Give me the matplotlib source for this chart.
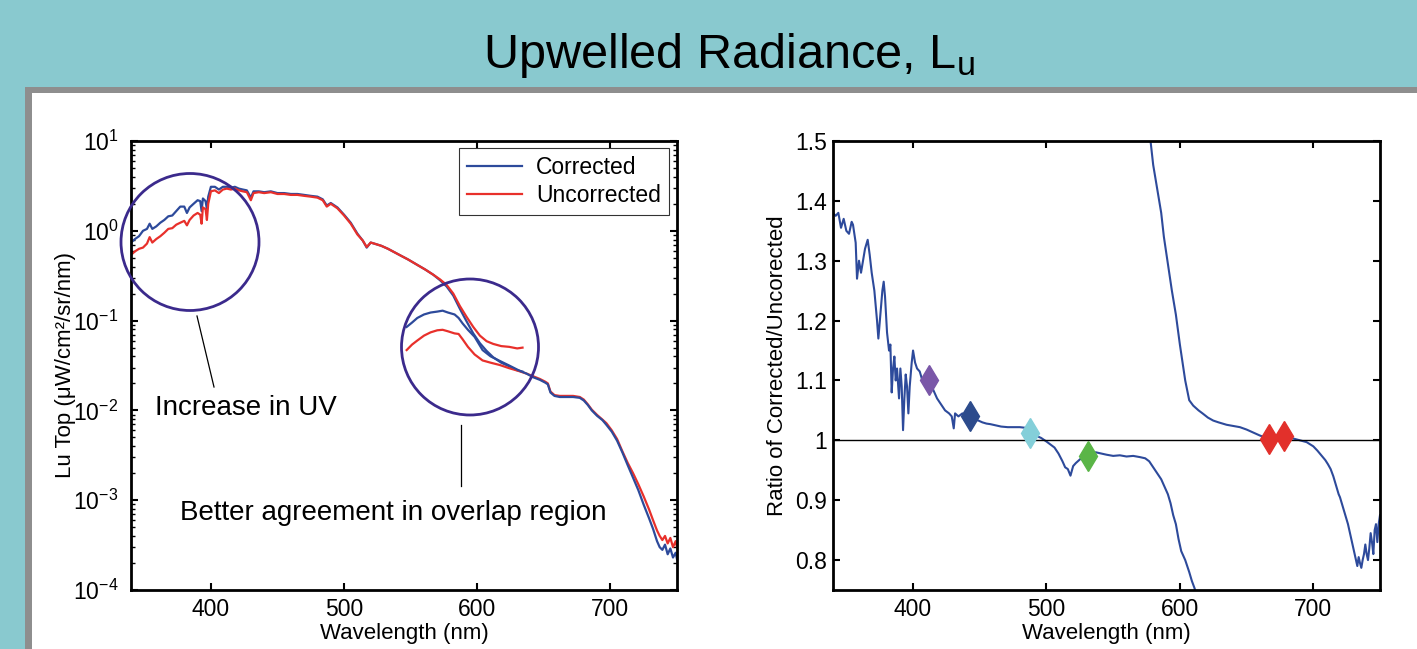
import matplotlib
matplotlib.use('Agg')
import matplotlib.pyplot as plt
from matplotlib.patches import Ellipse, Rectangle
from matplotlib.lines import Line2D
from matplotlib.ticker import LogLocator, FuncFormatter, NullFormatter

plt.rcParams['font.family'] = ['Liberation Sans', 'DejaVu Sans']
plt.rcParams['mathtext.fontset'] = 'custom'
plt.rcParams['mathtext.rm'] = 'Liberation Sans'
plt.rcParams['mathtext.it'] = 'Liberation Sans:italic'
plt.rcParams['mathtext.bf'] = 'Liberation Sans:bold'

# ---- left panel: Lu spectra, first spectrometer (UV/VIS) ----
wl_a = [340, 343, 346, 349, 352, 354, 356, 359, 362, 365, 368, 371, 374, 377, 380,
        382, 384, 387, 390, 392, 393, 394, 396, 397, 398, 400, 403, 406, 409, 412,
        415, 418, 421, 424, 427, 430, 432, 436, 440, 445, 450, 455, 460, 465, 470,
        475, 480, 484, 487, 490, 495, 500, 505, 510, 514, 517, 520, 524, 528, 533,
        538, 543, 548, 555, 561, 567, 572, 577, 582, 587, 592, 597, 602, 607, 612,
        618, 624, 630, 634]
lu_a_uncorr = [0.54, 0.59, 0.63, 0.65, 0.72, 0.85, 0.74, 0.81, 0.87, 0.95, 1.05, 1.07, 1.17, 1.23, 1.29,
               1.15, 1.32, 1.48, 1.58, 1.51, 1.20, 1.82, 1.74, 1.32, 2.0, 2.75, 2.82, 2.63, 2.88, 2.95,
               2.88, 2.95, 2.82, 2.75, 2.69, 2.19, 2.63, 2.69, 2.63, 2.69, 2.57, 2.57, 2.51, 2.51, 2.45,
               2.40, 2.34, 2.19, 1.86, 2.0, 1.78, 1.48, 1.20, 0.91, 0.78, 0.66, 0.74, 0.71, 0.68, 0.63,
               0.575, 0.525, 0.48, 0.417, 0.37, 0.324, 0.288, 0.25, 0.20, 0.145, 0.11, 0.085, 0.068, 0.059, 0.055,
               0.052, 0.051, 0.049, 0.050]
lu_a_corr = [0.74, 0.81, 0.87, 1.0, 1.05, 1.20, 1.05, 1.12, 1.23, 1.32, 1.45, 1.48, 1.66, 1.86, 1.86,
             1.58, 1.82, 2.0, 2.19, 2.14, 1.66, 2.29, 2.14, 1.74, 2.40, 3.09, 3.09, 2.88, 3.09, 3.09,
             3.02, 3.09, 2.95, 2.88, 2.82, 2.34, 2.75, 2.75, 2.69, 2.75, 2.63, 2.63, 2.57, 2.57, 2.51,
             2.45, 2.40, 2.24, 1.91, 2.04, 1.82, 1.51, 1.23, 0.93, 0.78, 0.65, 0.74, 0.71, 0.68, 0.63,
             0.575, 0.525, 0.48, 0.417, 0.37, 0.324, 0.282, 0.24, 0.19, 0.135, 0.098, 0.072, 0.056, 0.046, 0.039,
             0.034, 0.031, 0.028, 0.027]

# second spectrometer (VIS/NIR)
wl_b = [547, 551, 555, 560, 565, 570, 574, 578, 583, 586, 589, 593, 598, 604, 610,
        617, 624, 631, 637, 642, 647, 651, 653, 655, 658, 662, 667, 672, 677, 680,
        683, 686, 690, 694, 697, 701, 705, 709, 713, 717, 721, 725, 729, 732, 735,
        737, 739, 741, 743, 745, 747, 749, 750]
lu_b_uncorr = [0.047, 0.054, 0.060, 0.068, 0.074, 0.078, 0.079, 0.076, 0.072, 0.071, 0.062, 0.051, 0.042, 0.036, 0.034,
               0.032, 0.0295, 0.0275, 0.0257, 0.024, 0.0224, 0.0209, 0.020, 0.0162, 0.0148, 0.0145, 0.0145, 0.0145, 0.0141, 0.0132,
               0.0117, 0.0102, 0.0089, 0.0079, 0.0072, 0.0060, 0.0048, 0.0035, 0.0026, 0.0020, 0.0015, 0.0011, 0.00079, 0.0006, 0.00046,
               0.0004, 0.00036, 0.0004, 0.00033, 0.00038, 0.0003, 0.00035, 0.0003]
lu_b_corr = [0.085, 0.095, 0.107, 0.117, 0.123, 0.126, 0.129, 0.123, 0.117, 0.107, 0.093, 0.079, 0.066, 0.047, 0.040,
             0.0355, 0.0316, 0.028, 0.0257, 0.0234, 0.0219, 0.0204, 0.0195, 0.0158, 0.0145, 0.0141, 0.0141, 0.0141, 0.0138, 0.0129,
             0.0115, 0.0100, 0.0087, 0.0078, 0.0069, 0.0058, 0.0046, 0.0034, 0.00245, 0.00178, 0.00129, 0.00089, 0.00063, 0.00048, 0.00035,
             0.0003, 0.00028, 0.00032, 0.00025, 0.00029, 0.00023, 0.00026, 0.00022]

# ---- right panel: ratio corrected / uncorrected ----
wl_ra = [340, 342, 344, 346, 348, 350, 352, 354, 355, 357, 358, 359.5, 361, 362.5, 364,
         366, 367.5, 369, 371, 373, 374, 375.5, 377, 378, 379, 380.5, 382, 383, 384, 385,
         386, 387, 388, 389.5, 390.5, 391.5, 392.5, 393.5, 394.5, 395.5, 396.5, 397.5, 399, 400, 401.5,
         403, 405, 407, 409, 412, 415, 418, 421, 424, 427, 429, 430.5, 431.5, 434, 437,
         440, 443, 446, 449, 452, 455, 458, 462, 466, 471, 476, 480, 484, 488, 492,
         496, 500, 503, 506, 509, 512, 514, 516, 518, 520, 522, 525, 528, 531, 534,
         537, 541, 545, 550, 555, 560, 565, 570, 574, 577, 580, 583, 586, 589, 591,
         593, 595, 597, 599, 601, 604, 607, 609, 611, 612]
ratio_a = [1.38, 1.375, 1.38, 1.355, 1.37, 1.35, 1.345, 1.365, 1.36, 1.33, 1.27, 1.30, 1.28, 1.30, 1.32,
           1.335, 1.31, 1.28, 1.25, 1.20, 1.17, 1.21, 1.25, 1.265, 1.24, 1.18, 1.15, 1.16, 1.08, 1.12,
           1.14, 1.10, 1.12, 1.07, 1.12, 1.09, 1.017, 1.07, 1.11, 1.09, 1.045, 1.09, 1.13, 1.15, 1.13,
           1.12, 1.115, 1.10, 1.105, 1.10, 1.085, 1.07, 1.06, 1.05, 1.045, 1.04, 1.02, 1.045, 1.04, 1.045,
           1.04, 1.04, 1.035, 1.033, 1.03, 1.028, 1.027, 1.025, 1.023, 1.022, 1.022, 1.022, 1.021, 1.013, 1.008,
           1.004, 0.998, 0.993, 0.988, 0.978, 0.965, 0.955, 0.952, 0.941, 0.957, 0.962, 0.968, 0.974, 0.973, 0.978,
           0.980, 0.978, 0.976, 0.974, 0.975, 0.973, 0.974, 0.972, 0.970, 0.965, 0.955, 0.945, 0.935, 0.92, 0.91,
           0.895, 0.875, 0.86, 0.835, 0.815, 0.80, 0.78, 0.765, 0.753, 0.745]

wl_rb = [577, 580, 583, 586, 588, 590, 592, 594, 597, 600, 602, 604, 607, 610, 614,
         617, 621, 625, 629, 635, 640, 645, 650, 655, 660, 665, 670, 675, 680, 685,
         690, 695, 700, 703, 706, 709, 711, 713, 715, 717, 719, 720, 722, 724, 726,
         728, 730, 731, 732, 733, 734, 735, 736, 737, 738, 739, 740, 741, 742, 743,
         744, 745, 746, 747, 748, 749, 750]
ratio_b = [1.52, 1.46, 1.42, 1.38, 1.34, 1.31, 1.28, 1.25, 1.21, 1.16, 1.13, 1.10, 1.067, 1.058, 1.05,
           1.045, 1.038, 1.033, 1.03, 1.026, 1.024, 1.022, 1.018, 1.013, 1.008, 1.004, 1.004, 1.005, 1.005, 1.003,
           1.0, 0.997, 0.99, 0.983, 0.975, 0.967, 0.96, 0.952, 0.94, 0.925, 0.91, 0.905, 0.89, 0.875, 0.86,
           0.84, 0.82, 0.81, 0.80, 0.79, 0.805, 0.795, 0.787, 0.80, 0.81, 0.826, 0.81, 0.80, 0.82, 0.845,
           0.83, 0.81, 0.85, 0.86, 0.83, 0.86, 0.875]

band_wl = [412, 443, 488, 531, 667, 678]
band_ratio = [1.10, 1.04, 1.013, 0.973, 1.003, 1.008]
band_colors = ['#7a57a8', '#2c4b8c', '#84cfd9', '#5ab547', '#e2302b', '#e2302b']

BLUE = '#2d4a9b'
RED = '#e8302b'
RING = '#3b2a8c'
W, H = 1417, 649


def fx(x):
    return x / W


def fy(y):
    return 1 - y / H


def log_label(v, p):
    e = int(round(__import__('math').log10(v)))
    return '10$^{%d}$' % e


fig = plt.figure(figsize=(14.17, 6.49), dpi=100, facecolor='#89c9cf')

# white slide panel with grey frame
fig.add_artist(Rectangle((fx(25), -0.1), 1.2, fy(87) + 0.1, transform=fig.transFigure,
                         facecolor='#8e8e8e', edgecolor='none', zorder=0))
fig.add_artist(Rectangle((fx(32), -0.1), 1.2, fy(93) + 0.1, transform=fig.transFigure,
                         facecolor='white', edgecolor='none', zorder=0))

fig.text(fx(729), fy(68), 'Upwelled Radiance, L$_{\\mathrm{u}}$', ha='center', va='baseline', fontsize=35)

ax1 = fig.add_axes([fx(131), fy(590), fx(677) - fx(131), fy(141) - fy(590)])
ax2 = fig.add_axes([fx(833), fy(590), fx(1380) - fx(833), fy(141) - fy(590)])

ax1.plot(wl_a, lu_a_corr, color=BLUE, lw=1.6, label='Corrected')
ax1.plot(wl_a, lu_a_uncorr, color=RED, lw=1.6, label='Uncorrected')
ax1.plot(wl_b, lu_b_uncorr, color=RED, lw=1.6)
ax1.plot(wl_b, lu_b_corr, color=BLUE, lw=1.6)
ax1.set_yscale('log')
ax1.set_xlim(340, 750)
ax1.set_ylim(1e-4, 10)
ax1.set_xticks([400, 500, 600, 700])
ax1.yaxis.set_major_locator(LogLocator(base=10, numticks=10))
ax1.yaxis.set_major_formatter(FuncFormatter(log_label))
ax1.yaxis.set_minor_locator(LogLocator(base=10, subs=range(2, 10), numticks=20))
ax1.yaxis.set_minor_formatter(NullFormatter())
ax1.set_xlabel('Wavelength (nm)', fontsize=16)
ax1.set_ylabel('Lu Top (\u03bcW/cm\u00b2/sr/nm)', fontsize=16)
ax1.xaxis.set_label_coords(0.5, -0.074)
ax1.yaxis.set_label_coords(-0.1, 0.5)
leg = ax1.legend(loc='upper right', bbox_to_anchor=(0.985, 0.984), borderaxespad=0, fontsize=16.5,
                 frameon=True, fancybox=False, handlelength=2.4, handletextpad=0.6,
                 labelspacing=0.2, borderpad=0.35)
leg.get_frame().set_edgecolor('black')
leg.get_frame().set_linewidth(0.8)

ax2.plot(wl_ra, ratio_a, color=BLUE, lw=1.5)
ax2.plot(wl_rb, ratio_b, color=BLUE, lw=1.5)
ax2.axhline(1.0, color='black', lw=1.0)
for w, r, c in zip(band_wl, band_ratio, band_colors):
    ax2.plot([w], [r], marker='d', color=c, markersize=15, zorder=5)
ax2.set_xlim(340, 750)
ax2.set_ylim(0.75, 1.5)
ax2.set_xticks([400, 500, 600, 700])
ax2.set_yticks([0.8, 0.9, 1.0, 1.1, 1.2, 1.3, 1.4, 1.5])
ax2.yaxis.set_major_formatter(FuncFormatter(lambda v, p: '%g' % round(v, 2)))
ax2.set_xlabel('Wavelength (nm)', fontsize=16)
ax2.set_ylabel('Ratio of Corrected/Uncorected', fontsize=16)
ax2.xaxis.set_label_coords(0.5, -0.074)
ax2.yaxis.set_label_coords(-0.082, 0.5)

for ax in (ax1, ax2):
    for s in ax.spines.values():
        s.set_linewidth(2.0)
    ax.tick_params(which='both', direction='in', top=True, right=True, labelsize=16.5)
    ax.tick_params(which='major', length=5, width=1.5)
    ax.tick_params(which='minor', length=3, width=1.0)
    ax.tick_params(axis='x', pad=6)
ax1.tick_params(axis='y', pad=9)
ax2.tick_params(axis='y', pad=4)

# annotation rings and leader lines
fig.add_artist(Ellipse((fx(190), fy(242)), fx(138), 137 / H, transform=fig.transFigure,
                       facecolor='none', edgecolor=RING, lw=2, zorder=10))
fig.add_artist(Ellipse((fx(470), fy(347)), fx(137), 136 / H, transform=fig.transFigure,
                       facecolor='none', edgecolor=RING, lw=2, zorder=10))
fig.add_artist(Line2D([fx(197), fx(214)], [fy(316), fy(387)], transform=fig.transFigure,
                      color='black', lw=0.9))
fig.add_artist(Line2D([fx(461), fx(461)], [fy(425), fy(486)], transform=fig.transFigure,
                      color='black', lw=0.9))
fig.text(fx(155), fy(415), 'Increase in UV', fontsize=20, va='baseline')
fig.text(fx(180), fy(520), 'Better agreement in overlap region', fontsize=20, va='baseline')

fig.savefig('out.png', dpi=100, facecolor=fig.get_facecolor())
